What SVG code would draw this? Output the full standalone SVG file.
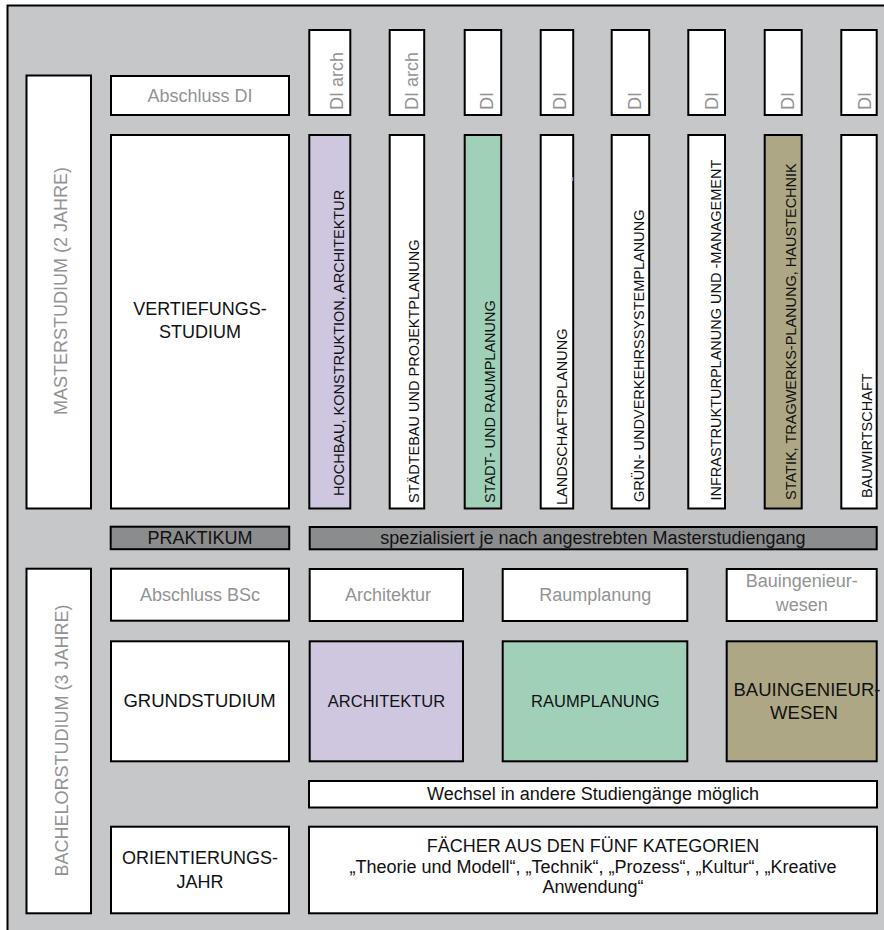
<svg xmlns="http://www.w3.org/2000/svg" width="884" height="930" viewBox="0 0 884 930">
  <style>
    text { font-family: "Liberation Sans", Arial, sans-serif; font-size: 18px; fill: #111; }
    .grey { fill: #939393; }
    .mid { text-anchor: middle; }
    .col { font-size: 14.5px; }
    .box { fill: #fff; stroke: #000; stroke-width: 2; }
    .arch { fill: #cfc6e0; }
    .raum { fill: #a0d0b8; }
    .bau { fill: #aea785; }
    .bar { fill: #8b8c8e; stroke: #000; stroke-width: 2; }
  </style>

  <!-- frame -->
  <rect x="0" y="0" width="884" height="930" fill="#fff"/>
  <rect x="7" y="5" width="877" height="925" fill="#c6c7c9"/>
  <path d="M7.5 930 V5.5 H884" fill="none" stroke="#000" stroke-width="2"/>

  <!-- Masterstudium -->
  <g id="master">
    <rect class="box" x="26.5" y="75.5" width="64.5" height="433"/>
    <text class="grey mid" transform="translate(66.5,291) rotate(-90)">MASTERSTUDIUM (2 JAHRE)</text>
  </g>
  <g id="abschluss-di">
    <rect class="box" x="111" y="76" width="178" height="39"/>
    <text class="grey mid" x="200" y="102">Abschluss DI</text>
  </g>
  <g id="vertiefung">
    <rect class="box" x="111" y="135" width="178" height="373.5"/>
    <text class="mid" x="200" y="315">VERTIEFUNGS-</text>
    <text class="mid" x="200" y="337.5">STUDIUM</text>
  </g>

  <!-- degree tabs above the specialisations -->
  <g id="di-tabs">
    <rect class="box" x="309.3" y="30" width="41" height="85"/>
    <rect class="box" x="389.7" y="30" width="34.5" height="85"/>
    <rect class="box" x="464.7" y="30" width="36.5" height="85"/>
    <rect class="box" x="540.7" y="30" width="32.5" height="85"/>
    <rect class="box" x="611.7" y="30" width="37.5" height="85"/>
    <rect class="box" x="688.3" y="30" width="36.7" height="85"/>
    <rect class="box" x="764.7" y="30" width="37" height="85"/>
    <rect class="box" x="841.3" y="30" width="35.4" height="85"/>
    <text class="grey" transform="translate(343,110) rotate(-90)">DI arch</text>
    <text class="grey" transform="translate(417.5,110) rotate(-90)">DI arch</text>
    <text class="grey" transform="translate(492.5,110) rotate(-90)">DI</text>
    <text class="grey" transform="translate(566,110) rotate(-90)">DI</text>
    <text class="grey" transform="translate(641,110) rotate(-90)">DI</text>
    <text class="grey" transform="translate(718,110) rotate(-90)">DI</text>
    <text class="grey" transform="translate(794,110) rotate(-90)">DI</text>
    <text class="grey" transform="translate(871,110) rotate(-90)">DI</text>
  </g>

  <!-- specialisations -->
  <g id="spec-hochbau">
    <rect class="box arch" x="309.3" y="135" width="41" height="373.5"/>
    <text class="col" transform="translate(343.5,496) rotate(-90)">HOCHBAU, KONSTRUKTION, ARCHITEKTUR</text>
  </g>
  <g id="spec-staedtebau">
    <rect class="box" x="389.7" y="135" width="34.5" height="373.5"/>
    <text class="col" transform="translate(418.5,503) rotate(-90)">STÄDTEBAU UND PROJEKTPLANUNG</text>
  </g>
  <g id="spec-stadt">
    <rect class="box raum" x="464.7" y="135" width="36.5" height="373.5"/>
    <text class="col" transform="translate(494.5,503) rotate(-90)">STADT- UND RAUMPLANUNG</text>
  </g>
  <g id="spec-landschaft">
    <rect class="box" x="540.7" y="135" width="32.5" height="373.5"/>
    <rect x="571.8" y="177" width="1.4" height="4" fill="#8a88e6"/>
    <text class="col" transform="translate(567,505) rotate(-90)">LANDSCHAFTSPLANUNG</text>
  </g>
  <g id="spec-gruen">
    <rect class="box" x="611.7" y="135" width="37.5" height="373.5"/>
    <text class="col" transform="translate(643.5,502) rotate(-90)">GRÜN- UNDVERKEHRSSYSTEMPLANUNG</text>
  </g>
  <g id="spec-infra">
    <rect class="box" x="688.3" y="135" width="36.7" height="373.5"/>
    <text class="col" transform="translate(720.5,500.5) rotate(-90)">INFRASTRUKTURPLANUNG UND -MANAGEMENT</text>
  </g>
  <g id="spec-statik">
    <rect class="box bau" x="764.7" y="135" width="37" height="373.5"/>
    <text class="col" transform="translate(796,500) rotate(-90)">STATIK, TRAGWERKS-PLANUNG, HAUSTECHNIK</text>
  </g>
  <g id="spec-bauwirtschaft">
    <rect class="box" x="841.3" y="135" width="35.4" height="373.5"/>
    <text class="col" transform="translate(872,498) rotate(-90)">BAUWIRTSCHAFT</text>
  </g>

  <!-- internship bars -->
  <g id="praktikum">
    <rect class="bar" x="110.7" y="526.7" width="178.5" height="22.5"/>
    <text class="mid" x="200" y="543.5">PRAKTIKUM</text>
  </g>
  <g id="spezialisiert">
    <rect class="bar" x="309.7" y="527" width="567" height="22.3"/>
    <text class="mid" x="593" y="543.5">spezialisiert je nach angestrebten Masterstudiengang</text>
  </g>

  <!-- Bachelorstudium -->
  <g id="bachelor">
    <rect class="box" x="26.5" y="568.7" width="64.5" height="344.6"/>
    <text class="grey mid" transform="translate(67.5,740.5) rotate(-90)">BACHELORSTUDIUM (3 JAHRE)</text>
  </g>
  <g id="abschluss-bsc">
    <rect class="box" x="111" y="568.7" width="178" height="52"/>
    <text class="grey mid" x="200" y="601">Abschluss BSc</text>
  </g>
  <g id="bsc-architektur">
    <rect class="box" x="309.7" y="569" width="153.3" height="52"/>
    <text class="grey mid" x="388" y="600.5">Architektur</text>
  </g>
  <g id="bsc-raumplanung">
    <rect class="box" x="502.7" y="569" width="184.6" height="52"/>
    <text class="grey mid" x="595.3" y="600.5">Raumplanung</text>
  </g>
  <g id="bsc-bauingenieurwesen">
    <rect class="box" x="726.7" y="569" width="150" height="52"/>
    <text class="grey mid" x="801.7" y="587">Bauingenieur-</text>
    <text class="grey mid" x="801.7" y="611">wesen</text>
  </g>

  <g id="grundstudium">
    <rect class="box" x="111" y="641.3" width="178" height="120"/>
    <text class="mid" x="199.5" y="707" style="font-size:18.5px">GRUNDSTUDIUM</text>
  </g>
  <g id="gs-architektur">
    <rect class="box arch" x="309.7" y="641.3" width="153.3" height="120"/>
    <text class="mid" x="386.5" y="707.3" style="font-size:16.5px">ARCHITEKTUR</text>
  </g>
  <g id="gs-raumplanung">
    <rect class="box raum" x="502.7" y="641.3" width="184.6" height="120"/>
    <text class="mid" x="595.3" y="707.3" style="font-size:16.5px">RAUMPLANUNG</text>
  </g>
  <g id="gs-bauingenieurwesen">
    <rect class="box bau" x="726.7" y="641.3" width="150" height="120"/>
    <text class="mid" x="807" y="696" style="font-size:18.5px">BAUINGENIEUR-</text>
    <text class="mid" x="804" y="718.5" style="font-size:18.5px">WESEN</text>
  </g>

  <g id="wechsel">
    <rect class="box" x="309" y="781" width="568" height="26.5"/>
    <text class="mid" x="593" y="799.5">Wechsel in andere Studiengänge möglich</text>
  </g>

  <g id="orientierung">
    <rect class="box" x="111" y="826.7" width="178" height="86.6"/>
    <text class="mid" x="200" y="864">ORIENTIERUNGS-</text>
    <text class="mid" x="200" y="888.3">JAHR</text>
  </g>
  <g id="faecher">
    <rect class="box" x="309" y="826.7" width="568" height="86.6"/>
    <text class="mid" x="593" y="852">FÄCHER AUS DEN FÜNF KATEGORIEN</text>
    <text class="mid" x="593" y="872.5">„Theorie und Modell“, „Technik“, „Prozess“, „Kultur“, „Kreative</text>
    <text class="mid" x="593" y="893">Anwendung“</text>
  </g>

  <!-- no connectors in this chart -->
  <g id="connectors"/>
</svg>
